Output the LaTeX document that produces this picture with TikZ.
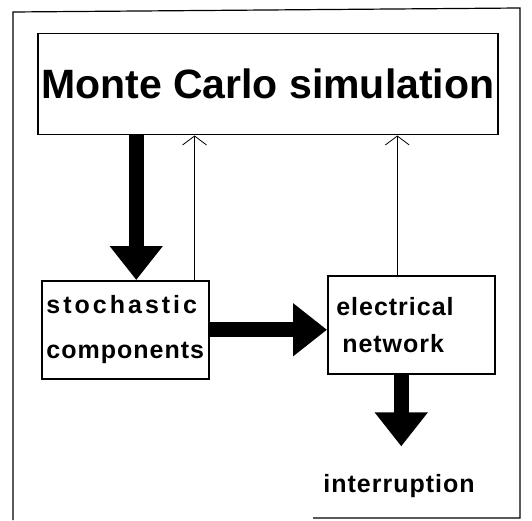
\documentclass[tikz,border=0pt]{standalone}
\usepackage{fontspec}
\setmainfont{Liberation Sans}
\usepackage{tikz}
\usetikzlibrary{arrows.meta}
\usetikzlibrary{positioning}

\begin{document}
\begin{tikzpicture}[x=1pt, y=-1pt,
        box/.style={draw, line width=1.5pt, inner sep=0pt, font=\bfseries},
        fat/.style={line width=15pt, -{Triangle[width=51pt,length=34pt]}},
        thinarrow/.style={line width=0.8pt, -{Straight Barb[width=24pt,length=9pt,line width=0.8pt]}},
        boxtext/.style={font=\fontsize{25}{30}\selectfont\bfseries\addfontfeature{LetterSpace=4}}]
                \useasboundingbox (0,0) rectangle (532,521);
                % frame round everything
                \draw[line width=1.2pt] (313,518) -- (520,518) -- (520,8) -- (13,12) -- (13,520);
                \node[box, anchor=north west, minimum width=460pt, minimum height=101pt,
                      font=\fontsize{41}{48}\selectfont\bfseries] (mc) at (37,33) {Monte Carlo simulation};
                \node[box, boxtext, anchor=north west, minimum width=167pt, minimum height=98pt,
                      align=left] (stoch) at (41,280) {\addfontfeature{LetterSpace=12}stochastic\\[15pt]components};
                \node[box, boxtext, anchor=north west, minimum width=167pt, minimum height=98pt,
                      align=left, text width=150pt] (elec) at (327,275) {electrical\\[7pt]\hspace{6pt}network};
                \node[boxtext, anchor=base] (intr) at (399,492) {interruption};
                % connectors
                \coordinate (s1) at ([xshift=11pt]stoch.north);
                \coordinate (s2) at ([xshift=-15pt]stoch.north east);
                \coordinate (e1) at ([xshift=-10pt]elec.south);
                \coordinate (e2) at ([xshift=-14pt]elec.north);
                \draw[fat] (s1 |- mc.south) -- (s1);
                \draw[fat] (stoch.east) -- (elec.west |- stoch.east);
                \draw[fat, shorten >=24pt] (e1) -- (e1 |- intr.north);
                \draw[thinarrow] (s2) -- (s2 |- mc.south);
                \draw[thinarrow] (e2) -- (e2 |- mc.south);
            \end{tikzpicture}
\end{document}
